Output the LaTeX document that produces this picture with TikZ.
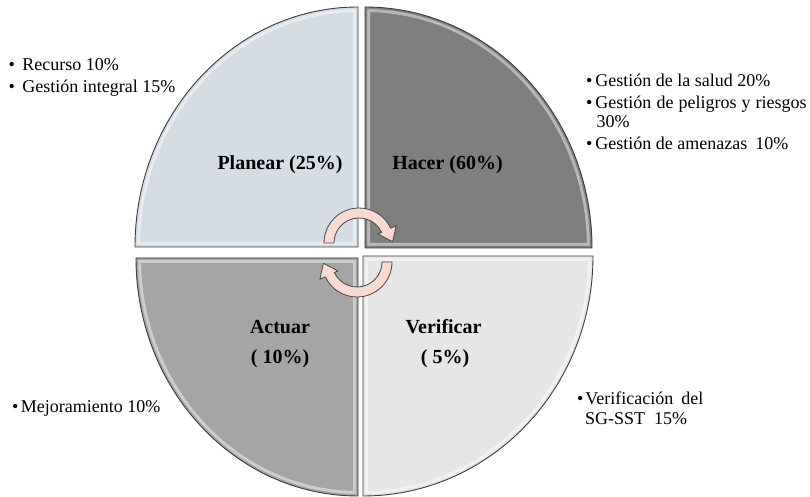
\documentclass[tikz,border=0pt]{standalone}
\usepackage{fontspec}
\setmainfont{Liberation Serif}
\definecolor{qtl}{RGB}{214,220,228}
\definecolor{qtr}{RGB}{127,127,127}
\definecolor{qbl}{RGB}{165,165,165}
\definecolor{qbr}{RGB}{230,230,230}
\definecolor{edgegray}{RGB}{60,60,60}
\definecolor{arrowpink}{RGB}{248,218,210}
\definecolor{arrowline}{RGB}{70,70,70}
\newcommand{\mkquad}[6]{%
  \begin{scope}
    \clip (#1,#2) -- +({#3*cos(#5)},{#4*sin(#5)}) arc[start angle=#5, end angle=#5+90, x radius=#3pt, y radius=#4pt] -- cycle;
    \fill[#6] (#1,#2) -- +({#3*cos(#5)},{#4*sin(#5)}) arc[start angle=#5, end angle=#5+90, x radius=#3pt, y radius=#4pt] -- cycle;
    \draw[white, line width=10pt, opacity=.45] (#1,#2) -- +({#3*cos(#5)},{#4*sin(#5)}) arc[start angle=#5, end angle=#5+90, x radius=#3pt, y radius=#4pt] -- cycle;
    \draw[#6, line width=4pt] (#1,#2) -- +({#3*cos(#5)},{#4*sin(#5)}) arc[start angle=#5, end angle=#5+90, x radius=#3pt, y radius=#4pt] -- cycle;
  \end{scope}
  \draw[quadedge] (#1,#2) -- +({#3*cos(#5)},{#4*sin(#5)}) arc[start angle=#5, end angle=#5+90, x radius=#3pt, y radius=#4pt] -- cycle;
}
\tikzset{
  quadedge/.style={draw=edgegray, line width=0.9pt, line join=round},
  lst/.style={anchor=base west, inner sep=0pt, font=\fontsize{18}{22}\selectfont},
  lbl/.style={anchor=base, inner sep=0pt, font=\fontsize{20}{24}\selectfont\bfseries},
  cyc/.style={fill=arrowpink, draw=arrowline, line width=0.8pt, line join=round},
}
\begin{document}
\begin{tikzpicture}[x=1pt,y=1pt]
\useasboundingbox (0,0) rectangle (810,497);
% quadrants
\mkquad{358}{250}{223}{240}{90}{qtl}
\mkquad{365}{249}{227}{241}{0}{qtr}
\mkquad{358}{239}{222}{238}{180}{qbl}
\mkquad{363}{241}{230}{240}{270}{qbr}
% cycle arrows
\begin{scope}[shift={(359,254)}]
  \path[cyc] (180:35pt) arc[start angle=180, end angle=25, radius=35pt] -- (25:41pt) -- (33.6,1.3) -- (25:21pt) -- (25:25pt) arc[start angle=25, end angle=180, radius=25pt] -- cycle;
\end{scope}
\begin{scope}[shift={(357,235)}]
  \path[cyc] (0:35pt) arc[start angle=0, end angle=-155, radius=35pt] -- (-155:41pt) -- (-33.6,-1.3) -- (-155:21pt) -- (-155:25pt) arc[start angle=-155, end angle=0, radius=25pt] -- cycle;
\end{scope}
% labels
\node[lbl] (planear) at (280,327) {Planear (25\%)};
\node[lbl] (hacer) at (447.5,327) {Hacer (60\%)};
\node[lbl] (actuar) at (280,163.7) {Actuar};
\node[lbl] (actuarpct) at (280,133.7) {( 10\%)};
\node[lbl] (verificar) at (443.5,163.7) {Verificar};
\node[lbl] (verificarpct) at (445,133.7) {( 5\%)};
% lists
\node[lst] (r1) at (8.5,426.3) {\textbullet\hspace{7.5pt}Recurso 10\%};
\node[lst] (r2) at (8.5,404.3) {\textbullet\hspace{7.5pt}Gestión integral 15\%};
\node[lst] (h1) at (586,410.5) {\textbullet\hspace{3pt}Gestión de la salud 20\%};
\node[lst] (h2) at (586,388.5) {\textbullet\hspace{3pt}\makebox[211pt][s]{Gestión de peligros y riesgos}};
\node[lst] (h3) at (596.5,369) {30\%};
\node[lst] (h4) at (586,347.5) {\textbullet\hspace{3pt}Gestión de amenazas\hspace{8pt}10\%};
\node[lst] (a1) at (11.9,84.7) {\textbullet\hspace{2.5pt}Mejoramiento 10\%};
\node[lst] (v1) at (576.9,92) {\textbullet\hspace{2pt}Verificación\hspace{8pt}del};
\node[lst] (v2) at (585,72) {SG-SST\hspace{9pt}15\%};
\end{tikzpicture}
\end{document}
